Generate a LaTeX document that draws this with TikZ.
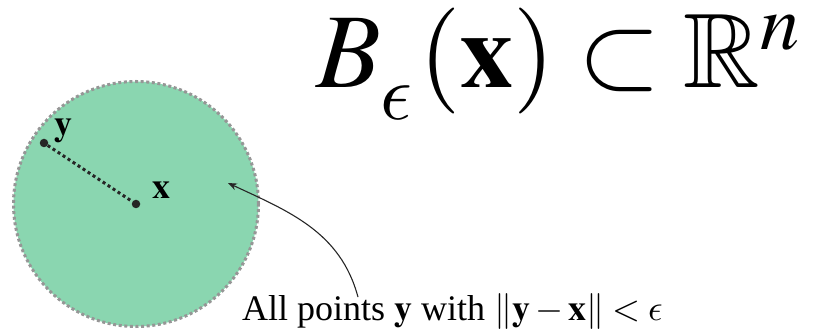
\documentclass[tikz,border=0pt]{standalone}
\usepackage{amsmath}
\usepackage{amssymb}
\usepackage{mathptmx}
\usepackage{fontspec}
\setmainfont{Liberation Serif}
\DeclareFontFamily{OML}{cmmx}{\skewchar\font127}
\DeclareFontShape{OML}{cmmx}{m}{it}{<-> cmmi10}{}
\DeclareSymbolFont{cmxletters}{OML}{cmmx}{m}{it}
\DeclareMathSymbol{\lunateeps}{\mathord}{cmxletters}{"0F}
\usetikzlibrary{arrows.meta}
\definecolor{ballgreen}{RGB}{138,214,176}
\definecolor{rimgray}{RGB}{150,150,150}
\tikzset{
  ball/.style={circle, fill=ballgreen, draw=rimgray, line width=3pt, dash pattern=on 3pt off 2.6pt, minimum size=245pt, inner sep=0pt},
  pt/.style={circle, fill=black!85, inner sep=0pt, minimum size=8.5pt},
  lbl/.style={inner sep=0pt, font=\fontsize{36}{40}\selectfont},
  radius line/.style={line width=3pt, black!85, dash pattern=on 3pt off 3pt},
  pointer/.style={line width=1.1pt, black!85, -{Stealth[length=9pt,width=7pt]}},
}
\begin{document}
\begin{tikzpicture}[x=1pt,y=1pt]
\useasboundingbox (0,0) rectangle (813,-336);
\node[ball] (ball) at (136,-204) {};
\node[pt] (px) at (136,-204) {};
\node[pt] (py) at (44,-143) {};
\draw[radius line] (py) -- (px);
\node[lbl, anchor=base west] (ly) at (54,-136) {$\mathbf{y}$};
\node[lbl, anchor=base west] (lx) at (152,-199) {$\mathbf{x}$};
\node[inner sep=0pt, anchor=base west, font=\fontsize{106}{110}\selectfont] (title) at (316,-88) {$B_{\raisebox{-16pt}{$\scriptstyle\lunateeps$}}\mkern1mu(\mathbf{x})\subset\mathbb{R}^n$};
\node[lbl, anchor=base west] (caption) at (242,-320) {All points $\mathbf{y}$ with $\|\mathbf{y}\mathbin{-}\mathbf{x}\|<\lunateeps$};
\coordinate (tip) at (228,-183);
\draw[pointer] (caption.north west) ++(116,-4) coordinate (from) to[out=105,in=-25] (tip);
\end{tikzpicture}
\end{document}
